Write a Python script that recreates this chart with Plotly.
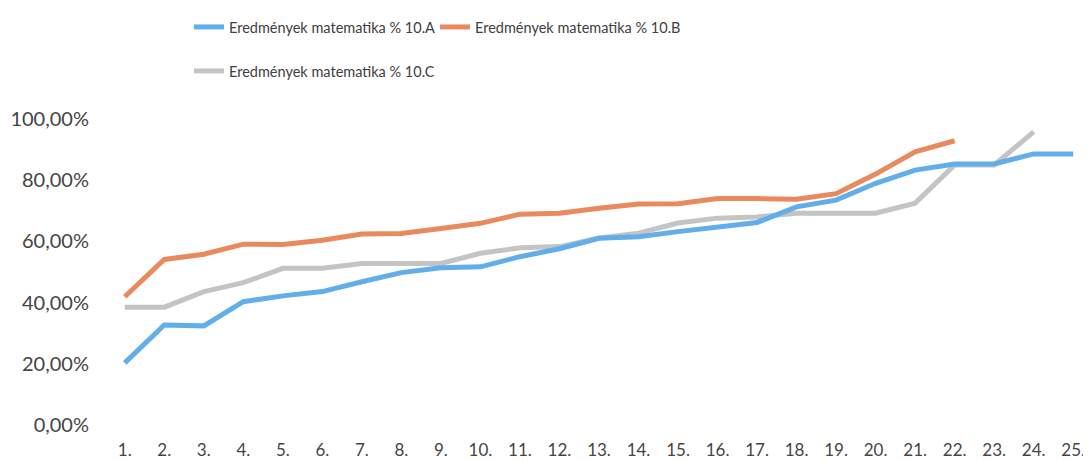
import plotly.graph_objects as go

categories = [f"{i}." for i in range(1, 26)]
x_pos = list(range(1, 26))

series_a = [20.3, 32.7, 32.4, 40.3, 42.2, 43.6, 46.8, 49.8, 51.4, 51.7, 55.0, 57.6,
            61.0, 61.5, 63.2, 64.5, 66.2, 71.3, 73.5, 79.0, 83.3, 85.3, 85.3, 88.6, 88.6]
series_b = [41.9, 54.1, 55.8, 59.1, 59.0, 60.4, 62.4, 62.6, 64.2, 65.9, 68.9, 69.2,
            70.8, 72.2, 72.3, 74.0, 74.0, 73.8, 75.6, 82.0, 89.3, 92.9]
series_c = [38.5, 38.5, 43.6, 46.5, 51.2, 51.2, 52.8, 52.8, 52.8, 56.1, 57.9, 58.3,
            61.1, 62.7, 66.0, 67.6, 68.0, 69.2, 69.2, 69.2, 72.5, 85.0, 85.0, 95.8]

names = ["Eredmények matematika % 10.A",
         "Eredmények matematika % 10.B",
         "Eredmények matematika % 10.C"]
colors = ["#62AEEA", "#E9895E", "#C4C4C4"]

y_ticks = [0, 20, 40, 60, 80, 100]
y_ticktext = ["0,00%", "20,00%", "40,00%", "60,00%", "80,00%", "100,00%"]

font_family = "Lato"
text_color = "#454545"

# page body has an 8px margin, so the figure is sized to fill the rest of the window
W, H = 1083, 453

fig = go.Figure()
fig.add_trace(go.Scatter(x=x_pos[:len(series_c)], y=series_c, mode="lines", name=names[2],
                         line=dict(color=colors[2], width=5), legend="legend3",
                         showlegend=True))
fig.add_trace(go.Scatter(x=x_pos[:len(series_a)], y=series_a, mode="lines", name=names[0],
                         line=dict(color=colors[0], width=5), legend="legend",
                         showlegend=True))
fig.add_trace(go.Scatter(x=x_pos[:len(series_b)], y=series_b, mode="lines", name=names[1],
                         line=dict(color=colors[1], width=5), legend="legend2",
                         showlegend=True))

legend_font = dict(size=14.5, color="#404040")

fig.update_layout(
    width=W, height=H,
    showlegend=True,
    margin=dict(l=97, r=0, t=111, b=36, autoexpand=False),
    paper_bgcolor="white", plot_bgcolor="white",
    font=dict(family=font_family, color=text_color),
    legend=dict(visible=True, orientation="h", xref="container", yref="container",
                x=181 / W, y=1 - 3 / H, xanchor="left", yanchor="top",
                font=legend_font, bgcolor="rgba(0,0,0,0)"),
    legend2=dict(orientation="h", xref="container", yref="container",
                 x=427 / W, y=1 - 3 / H, xanchor="left", yanchor="top",
                 font=legend_font, bgcolor="rgba(0,0,0,0)"),
    legend3=dict(orientation="h", xref="container", yref="container",
                 x=181 / W, y=1 - 47 / H, xanchor="left", yanchor="top",
                 font=legend_font, bgcolor="rgba(0,0,0,0)"),
    xaxis=dict(range=[0.5, 25.45], tickmode="array", tickvals=x_pos, ticktext=categories,
               showgrid=False, zeroline=False, showline=False, automargin=False,
               ticks="outside", ticklen=10, tickcolor="rgba(0,0,0,0)",
               tickfont=dict(size=17, color=text_color)),
    yaxis=dict(range=[0, 100], tickmode="array", tickvals=y_ticks, ticktext=y_ticktext,
               showgrid=False, zeroline=False, showline=False, automargin=False,
               ticks="outside", ticklen=11, tickcolor="rgba(0,0,0,0)",
               tickfont=dict(size=20, color=text_color)),
)

fig.write_html("out.html")
